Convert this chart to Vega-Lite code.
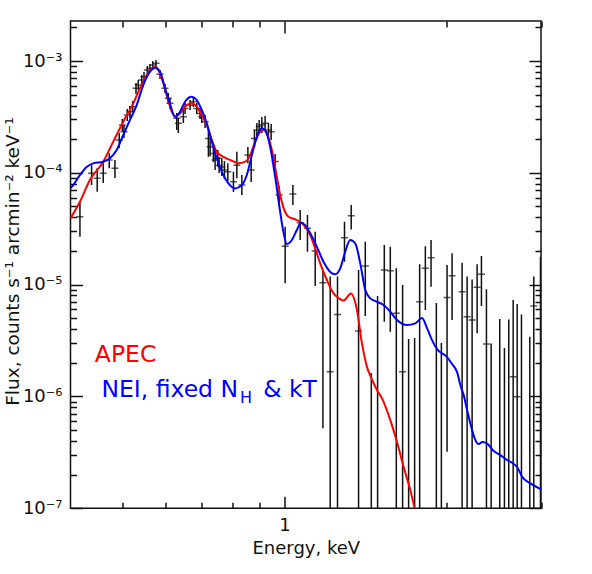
{
  "$schema": "https://vega.github.io/schema/vega-lite/v6.json",
  "width": 470.5,
  "height": 487.3,
  "autosize": {"type": "none"},
  "padding": {"left": 70.5, "top": 21, "right": 51, "bottom": 65.7},
  "background": "white",
  "config": {
    "view": {"stroke": "#111", "strokeWidth": 1.5},
    "axis": {
      "grid": false, "domain": false, "tickColor": "#111", "tickWidth": 1.5,
      "labelFont": "DejaVu Sans", "labelFontSize": 18, "labelColor": "#111",
      "titleFont": "DejaVu Sans", "titleFontSize": 18, "titleFontWeight": "normal", "titleColor": "#111",
      "labelOverlap": false, "labelFlush": false
    }
  },
  "datasets": {
    "pts": [
      {"E":0.4165,"F":4.05e-5,"lo":2.68e-5,"hi":5.51e-5},
      {"E":0.4378,"F":9.90e-5,"lo":7.78e-5,"hi":1.17e-4},
      {"E":0.4485,"F":8.93e-5,"lo":6.77e-5,"hi":1.10e-4},
      {"E":0.4602,"F":9.90e-5,"lo":8.10e-5,"hi":1.22e-4},
      {"E":0.4722,"F":1.30e-4,"lo":1.10e-4,"hi":1.50e-4},
      {"E":0.4839,"F":1.10e-4,"lo":8.98e-5,"hi":1.30e-4},
      {"E":0.4929,"F":1.97e-4,"lo":1.67e-4,"hi":2.27e-4},
      {"E":0.4993,"F":2.68e-4,"lo":2.37e-4,"hi":3.03e-4},
      {"E":0.5029,"F":2.33e-4,"lo":2.05e-4,"hi":2.68e-4},
      {"E":0.5101,"F":3.29e-4,"lo":2.91e-4,"hi":3.72e-4},
      {"E":0.5160,"F":3.52e-4,"lo":3.09e-4,"hi":3.96e-4},
      {"E":0.5220,"F":3.90e-4,"lo":3.50e-4,"hi":4.39e-4},
      {"E":0.5295,"F":5.70e-4,"lo":5.07e-4,"hi":6.36e-4},
      {"E":0.5347,"F":6.10e-4,"lo":5.50e-4,"hi":6.76e-4},
      {"E":0.5426,"F":6.76e-4,"lo":6.10e-4,"hi":7.49e-4},
      {"E":0.5480,"F":7.24e-4,"lo":6.62e-4,"hi":7.97e-4},
      {"E":0.5558,"F":8.31e-4,"lo":7.65e-4,"hi":9.02e-4},
      {"E":0.5622,"F":8.60e-4,"lo":7.97e-4,"hi":9.40e-4},
      {"E":0.5688,"F":9.21e-4,"lo":8.48e-4,"hi":1.00e-3},
      {"E":0.5769,"F":9.54e-4,"lo":8.84e-4,"hi":1.02e-3},
      {"E":0.5869,"F":7.60e-4,"lo":6.90e-4,"hi":8.31e-4},
      {"E":0.5996,"F":5.70e-4,"lo":5.17e-4,"hi":6.23e-4},
      {"E":0.6081,"F":4.64e-4,"lo":4.12e-4,"hi":5.17e-4},
      {"E":0.6126,"F":4.18e-4,"lo":3.72e-4,"hi":4.67e-4},
      {"E":0.6305,"F":3.07e-4,"lo":2.41e-4,"hi":3.43e-4},
      {"E":0.6348,"F":2.77e-4,"lo":2.27e-4,"hi":3.09e-4},
      {"E":0.6486,"F":3.18e-4,"lo":2.79e-4,"hi":3.65e-4},
      {"E":0.6533,"F":3.77e-4,"lo":3.36e-4,"hi":4.21e-4},
      {"E":0.6675,"F":4.04e-4,"lo":3.65e-4,"hi":4.48e-4},
      {"E":0.6770,"F":4.32e-4,"lo":3.88e-4,"hi":4.76e-4},
      {"E":0.6869,"F":3.77e-4,"lo":3.36e-4,"hi":4.21e-4},
      {"E":0.6967,"F":3.40e-4,"lo":3.03e-4,"hi":3.80e-4},
      {"E":0.7018,"F":3.18e-4,"lo":2.79e-4,"hi":3.57e-4},
      {"E":0.7118,"F":2.86e-4,"lo":2.52e-4,"hi":3.29e-4},
      {"E":0.7220,"F":2.03e-4,"lo":1.39e-4,"hi":2.41e-4},
      {"E":0.7273,"F":1.71e-4,"lo":1.41e-4,"hi":2.05e-4},
      {"E":0.7376,"F":1.49e-4,"lo":1.25e-4,"hi":1.77e-4},
      {"E":0.7430,"F":1.30e-4,"lo":1.06e-4,"hi":1.60e-4},
      {"E":0.7517,"F":1.35e-4,"lo":1.13e-4,"hi":1.60e-4},
      {"E":0.7559,"F":1.17e-4,"lo":9.96e-5,"hi":1.38e-4},
      {"E":0.7647,"F":1.13e-4,"lo":9.36e-5,"hi":1.36e-4},
      {"E":0.7733,"F":1.06e-4,"lo":8.80e-5,"hi":1.275e-4},
      {"E":0.7846,"F":1.02e-4,"lo":8.45e-5,"hi":1.22e-4},
      {"E":0.8037,"F":8.33e-5,"lo":6.73e-5,"hi":1.02e-4},
      {"E":0.8155,"F":1.17e-4,"lo":8.93e-5,"hi":1.54e-4},
      {"E":0.8332,"F":7.78e-5,"lo":6.33e-5,"hi":9.56e-5},
      {"E":0.8549,"F":1.44e-4,"lo":1.22e-4,"hi":1.70e-4},
      {"E":0.8671,"F":1.06e-4,"lo":8.27e-5,"hi":1.36e-4},
      {"E":0.8794,"F":2.03e-4,"lo":1.70e-4,"hi":2.41e-4},
      {"E":0.8885,"F":2.41e-4,"lo":2.09e-4,"hi":2.79e-4},
      {"E":0.8974,"F":2.59e-4,"lo":2.22e-4,"hi":2.97e-4},
      {"E":0.9077,"F":2.68e-4,"lo":2.27e-4,"hi":3.16e-4},
      {"E":0.9205,"F":2.77e-4,"lo":2.37e-4,"hi":3.22e-4},
      {"E":0.9337,"F":2.41e-4,"lo":2.09e-4,"hi":2.79e-4},
      {"E":0.9446,"F":2.33e-4,"lo":1.97e-4,"hi":2.73e-4},
      {"E":0.9609,"F":1.26e-4,"lo":1.06e-4,"hi":1.47e-4},
      {"E":0.9775,"F":6.33e-5,"lo":5.15e-5,"hi":7.62e-5},
      {"E":1.003,"F":2.21e-5,"lo":1.03e-5,"hi":3.29e-5},
      {"E":1.0367,"F":6.46e-5,"lo":5.15e-5,"hi":7.78e-5},
      {"E":1.0696,"F":3.58e-5,"lo":2.51e-5,"hi":4.65e-5},
      {"E":1.1035,"F":3.19e-5,"lo":1.97e-5,"hi":4.19e-5},
      {"E":1.1407,"F":2.00e-5,"lo":9.71e-6,"hi":2.97e-5},
      {"E":1.1790,"F":1.04e-5,"lo":5.21e-7,"hi":1.35e-5},
      {"E":1.2164,"F":1.66e-6,"lo":1e-8,"hi":1.18e-5},
      {"E":1.2550,"F":5.42e-6,"lo":1e-8,"hi":1.18e-5},
      {"E":1.2932,"F":2.63e-5,"lo":1.60e-5,"hi":3.65e-5},
      {"E":1.3309,"F":4.13e-5,"lo":3.12e-5,"hi":5.15e-5},
      {"E":1.3735,"F":3.85e-6,"lo":1e-8,"hi":1.35e-5},
      {"E":1.4136,"F":1.47e-5,"lo":5.24e-6,"hi":2.42e-5},
      {"E":1.4504,"F":null,"lo":1e-8,"hi":1.62e-6},
      {"E":1.4901,"F":null,"lo":1e-8,"hi":7.91e-6},
      {"E":1.5335,"F":1.35e-5,"lo":4.66e-6,"hi":2.26e-5},
      {"E":1.5734,"F":1.33e-5,"lo":3.79e-6,"hi":2.18e-5},
      {"E":1.6144,"F":5.54e-6,"lo":1e-8,"hi":1.40e-5},
      {"E":1.6586,"F":1.66e-6,"lo":1e-8,"hi":9.92e-6},
      {"E":1.7018,"F":null,"lo":1e-8,"hi":3.26e-6},
      {"E":1.7462,"F":null,"lo":1e-8,"hi":3.33e-6},
      {"E":1.7841,"F":7.03e-6,"lo":1e-8,"hi":1.52e-5},
      {"E":1.8282,"F":1.40e-5,"lo":5.92e-6,"hi":2.21e-5},
      {"E":1.8734,"F":1.74e-5,"lo":9.57e-6,"hi":2.51e-5},
      {"E":1.9164,"F":null,"lo":1e-8,"hi":6.85e-6},
      {"E":1.9580,"F":null,"lo":1e-8,"hi":3.00e-6},
      {"E":2.0064,"F":7.69e-6,"lo":3.20e-7,"hi":1.50e-5},
      {"E":2.0499,"F":1.20e-5,"lo":4.82e-6,"hi":1.91e-5},
      {"E":2.1398,"F":8.64e-6,"lo":1e-8,"hi":1.57e-5},
      {"E":2.1862,"F":5.16e-6,"lo":1e-8,"hi":1.18e-5},
      {"E":2.2336,"F":4.82e-6,"lo":1e-8,"hi":1.11e-5},
      {"E":2.2820,"F":9.46e-6,"lo":3.67e-6,"hi":1.52e-5},
      {"E":2.3245,"F":1.24e-5,"lo":6.43e-6,"hi":1.80e-5},
      {"E":2.3749,"F":2.94e-6,"lo":1e-8,"hi":9.08e-6},
      {"E":2.4233,"F":null,"lo":1e-8,"hi":2.98e-6},
      {"E":2.5141,"F":null,"lo":1e-8,"hi":4.92e-6},
      {"E":2.5653,"F":null,"lo":1e-8,"hi":2.71e-6},
      {"E":2.6131,"F":null,"lo":1e-8,"hi":4.89e-6},
      {"E":2.6629,"F":1.50e-6,"lo":1e-8,"hi":7.28e-6},
      {"E":2.7089,"F":9.93e-7,"lo":1e-8,"hi":6.71e-6},
      {"E":2.7593,"F":null,"lo":1e-8,"hi":5.42e-6},
      {"E":2.8593,"F":null,"lo":1e-8,"hi":3.42e-6},
      {"E":2.9088,"F":6.43e-6,"lo":1e-8,"hi":1.18e-5},
      {"E":2.9935,"F":null,"lo":1e-8,"hi":1.78e-5}
    ],
    "apec": [
      {"E":0.400,"F":3.92e-5},{"E":0.4165,"F":5.51e-5},{"E":0.4346,"F":8.62e-5},{"E":0.4602,"F":1.257e-4},
      {"E":0.4804,"F":1.90e-4},{"E":0.5014,"F":2.86e-4},{"E":0.5234,"F":4.18e-4},{"E":0.5386,"F":5.70e-4},
      {"E":0.5544,"F":7.49e-4},{"E":0.5664,"F":8.60e-4},{"E":0.5745,"F":8.84e-4},{"E":0.5827,"F":8.31e-4},
      {"E":0.5953,"F":6.32e-4},{"E":0.6074,"F":4.48e-4},{"E":0.6171,"F":3.52e-4},{"E":0.6259,"F":3.18e-4},
      {"E":0.6394,"F":3.40e-4},{"E":0.6581,"F":4.04e-4},{"E":0.6723,"F":4.18e-4},{"E":0.6869,"F":3.90e-4},
      {"E":0.7018,"F":3.29e-4},{"E":0.7170,"F":2.68e-4},{"E":0.7326,"F":1.97e-4},{"E":0.7484,"F":1.54e-4},
      {"E":0.7700,"F":1.39e-4},{"E":0.7982,"F":1.283e-4},{"E":0.8211,"F":1.216e-4},{"E":0.8450,"F":1.257e-4},
      {"E":0.8634,"F":1.44e-4},{"E":0.8820,"F":1.90e-4},{"E":0.9010,"F":2.33e-4},{"E":0.9139,"F":2.41e-4},
      {"E":0.9273,"F":2.26e-4},{"E":0.9474,"F":1.60e-4},{"E":0.9679,"F":9.23e-5},{"E":0.9817,"F":6.33e-5},
      {"E":0.9957,"F":4.89e-5},{"E":1.0173,"F":4.05e-5},{"E":1.0470,"F":3.84e-5},{"E":1.0696,"F":3.65e-5},
      {"E":1.0927,"F":3.29e-5},{"E":1.1166,"F":2.78e-5},{"E":1.1407,"F":2.11e-5},{"E":1.1654,"F":1.55e-5},
      {"E":1.1994,"F":1.10e-5},{"E":1.2338,"F":8.36e-6},{"E":1.2606,"F":7.59e-6},{"E":1.2877,"F":7.21e-6},
      {"E":1.3292,"F":8.32e-6},{"E":1.3641,"F":5.92e-6},{"E":1.3936,"F":2.98e-6},{"E":1.4238,"F":1.84e-6},
      {"E":1.4565,"F":1.40e-6},{"E":1.4863,"F":1.14e-6},{"E":1.5185,"F":9.61e-7},{"E":1.5734,"F":6.15e-7},
      {"E":1.6213,"F":3.83e-7},{"E":1.6657,"F":2.35e-7},{"E":1.7144,"F":1.45e-7},{"E":1.7462,"F":1.0e-7},
      {"E":1.7700,"F":7.5e-8}
    ],
    "nei": [
      {"E":0.400,"F":7.31e-5},{"E":0.4047,"F":7.78e-5},{"E":0.4165,"F":9.56e-5},{"E":0.4285,"F":1.13e-4},
      {"E":0.4409,"F":1.216e-4},{"E":0.4602,"F":1.257e-4},{"E":0.4736,"F":1.35e-4},{"E":0.4874,"F":1.60e-4},
      {"E":0.5014,"F":2.18e-4},{"E":0.5160,"F":2.97e-4},{"E":0.5311,"F":4.04e-4},{"E":0.5463,"F":6.10e-4},
      {"E":0.5622,"F":8.02e-4},{"E":0.5745,"F":8.71e-4},{"E":0.5869,"F":8.02e-4},{"E":0.5996,"F":5.73e-4},
      {"E":0.6126,"F":4.12e-4},{"E":0.6259,"F":3.18e-4},{"E":0.6394,"F":3.52e-4},{"E":0.6533,"F":4.32e-4},
      {"E":0.6723,"F":4.79e-4},{"E":0.6869,"F":4.48e-4},{"E":0.7018,"F":3.65e-4},{"E":0.7170,"F":2.77e-4},
      {"E":0.7326,"F":1.90e-4},{"E":0.7484,"F":1.35e-4},{"E":0.7647,"F":1.02e-4},{"E":0.7866,"F":8.05e-5},
      {"E":0.8095,"F":7.26e-5},{"E":0.8332,"F":7.78e-5},{"E":0.8511,"F":9.56e-5},{"E":0.8697,"F":1.44e-4},
      {"E":0.8885,"F":2.10e-4},{"E":0.9077,"F":2.50e-4},{"E":0.9205,"F":2.41e-4},{"E":0.9405,"F":1.71e-4},
      {"E":0.9609,"F":9.23e-5},{"E":0.9817,"F":4.49e-5},{"E":0.9957,"F":2.95e-5},{"E":1.0104,"F":2.31e-5},
      {"E":1.0322,"F":2.51e-5},{"E":1.0546,"F":3.08e-5},{"E":1.0728,"F":3.58e-5},{"E":1.0927,"F":3.41e-5},
      {"E":1.1166,"F":2.88e-5},{"E":1.1491,"F":2.18e-5},{"E":1.1820,"F":1.60e-5},{"E":1.2164,"F":1.30e-5},
      {"E":1.2428,"F":1.24e-5},{"E":1.2698,"F":1.40e-5},{"E":1.2971,"F":1.97e-5},{"E":1.3252,"F":2.51e-5},
      {"E":1.3542,"F":2.34e-5},{"E":1.3835,"F":1.55e-5},{"E":1.4136,"F":8.94e-6},{"E":1.4442,"F":7.54e-6},
      {"E":1.4863,"F":7.03e-6},{"E":1.5289,"F":6.57e-6},{"E":1.5734,"F":5.72e-6},{"E":1.6192,"F":4.82e-6},
      {"E":1.6901,"F":4.35e-6},{"E":1.7514,"F":4.51e-6},{"E":1.8025,"F":5.02e-6},{"E":1.8415,"F":4.09e-6},
      {"E":1.8814,"F":3.19e-6},{"E":1.9222,"F":2.65e-6},{"E":2.0064,"F":2.25e-6},{"E":2.0499,"F":1.95e-6},
      {"E":2.0945,"F":1.65e-6},{"E":2.1243,"F":1.26e-6},{"E":2.1544,"F":1.03e-6},{"E":2.1862,"F":7.55e-7},
      {"E":2.2336,"F":5.00e-7},{"E":2.2654,"F":4.07e-7},{"E":2.2977,"F":3.75e-7},{"E":2.3345,"F":3.91e-7},
      {"E":2.3820,"F":3.79e-7},{"E":2.4505,"F":3.25e-7},{"E":2.5217,"F":2.99e-7},{"E":2.5952,"F":2.70e-7},
      {"E":2.6549,"F":2.54e-7},{"E":2.7089,"F":2.34e-7},{"E":2.7676,"F":1.91e-7},{"E":2.8679,"F":1.67e-7},
      {"E":3.0,"F":1.48e-7}
    ]
  },
  "layer": [
    {
      "data": {"name": "pts"},
      "mark": {"type": "rule", "color": "#111", "strokeWidth": 1.5, "clip": true},
      "encoding": {
        "x": {"field": "E", "type": "quantitative",
              "scale": {"type": "log", "domain": [0.4, 3.0], "nice": false, "zero": false},
              "axis": {"orient": "bottom", "values": [1], "tickSize": -12, "labelPadding": 20.5,
                       "labelExpr": "'1'", "title": "Energy, keV", "titleY": 45.3,
                       "titleBaseline": "alphabetic"}},
        "y": {"field": "lo", "type": "quantitative",
              "scale": {"type": "log", "domain": [1e-7, 2.279e-3], "nice": false, "zero": false},
              "axis": {"orient": "left", "values": [1e-7, 1e-6, 1e-5, 1e-4, 1e-3], "tickSize": -12,
                       "labelPadding": 20.5,
                       "labelExpr": "round(log(datum.value)/LN10) == -3 ? '10⁻³' : round(log(datum.value)/LN10) == -4 ? '10⁻⁴' : round(log(datum.value)/LN10) == -5 ? '10⁻⁵' : round(log(datum.value)/LN10) == -6 ? '10⁻⁶' : '10⁻⁷'",
                       "title": "Flux, counts s⁻¹ arcmin⁻² keV⁻¹", "titleX": -52.5, "titleY": 240,
                       "titleAngle": 270, "titleBaseline": "alphabetic", "titleAlign": "center",
                       "titleFontSize": 18.5}},
        "y2": {"field": "hi"}
      }
    },
    {
      "data": {"name": "pts"},
      "mark": {"type": "tick", "orient": "horizontal", "size": 7, "thickness": 1.5, "color": "#111", "clip": true},
      "encoding": {
        "x": {"field": "E", "type": "quantitative",
              "axis": {"orient": "bottom", "values": [0.5, 0.6, 0.7, 0.8, 0.9, 2, 3], "tickSize": -6,
                       "labels": false, "title": null}},
        "y": {"field": "F", "type": "quantitative",
              "axis": {"orient": "left",
                       "values": [2e-7,3e-7,4e-7,5e-7,6e-7,7e-7,8e-7,9e-7,2e-6,3e-6,4e-6,5e-6,6e-6,7e-6,8e-6,9e-6,2e-5,3e-5,4e-5,5e-5,6e-5,7e-5,8e-5,9e-5,2e-4,3e-4,4e-4,5e-4,6e-4,7e-4,8e-4,9e-4,2e-3],
                       "tickSize": -6, "labels": false, "title": null}}
      }
    },
    {
      "data": {"name": "apec"},
      "mark": {"type": "line", "color": "#ff0000", "strokeWidth": 2, "interpolate": "monotone", "clip": true},
      "encoding": {
        "x": {"field": "E", "type": "quantitative",
              "axis": {"orient": "top", "values": [1], "tickSize": -12, "labels": false, "title": null}},
        "y": {"field": "F", "type": "quantitative",
              "axis": {"orient": "right", "values": [1e-7, 1e-6, 1e-5, 1e-4, 1e-3], "tickSize": -12,
                       "labels": false, "title": null}}
      }
    },
    {
      "data": {"name": "nei"},
      "mark": {"type": "line", "color": "#0000ff", "strokeWidth": 2, "interpolate": "monotone", "clip": true},
      "encoding": {
        "x": {"field": "E", "type": "quantitative",
              "axis": {"orient": "top", "values": [0.5, 0.6, 0.7, 0.8, 0.9, 2, 3], "tickSize": -6,
                       "labels": false, "title": null}},
        "y": {"field": "F", "type": "quantitative",
              "axis": {"orient": "right",
                       "values": [2e-7,3e-7,4e-7,5e-7,6e-7,7e-7,8e-7,9e-7,2e-6,3e-6,4e-6,5e-6,6e-6,7e-6,8e-6,9e-6,2e-5,3e-5,4e-5,5e-5,6e-5,7e-5,8e-5,9e-5,2e-4,3e-4,4e-4,5e-4,6e-4,7e-4,8e-4,9e-4,2e-3],
                       "tickSize": -6, "labels": false, "title": null}}
      }
    },
    {
      "data": {"values": [{"E": 0.444, "F": 2.04e-6, "label": "APEC"}]},
      "mark": {"type": "text", "align": "left", "baseline": "alphabetic", "font": "DejaVu Sans", "fontSize": 23.5, "color": "#ff0000"},
      "encoding": {
        "x": {"field": "E", "type": "quantitative", "axis": null},
        "y": {"field": "F", "type": "quantitative", "axis": null},
        "text": {"field": "label"}
      }
    },
    {
      "data": {"values": [{"E": 0.8199, "F": 9.93e-7, "label": "NEI, fixed N"}]},
      "mark": {"type": "text", "align": "right", "baseline": "alphabetic", "font": "DejaVu Sans", "fontSize": 23.5, "color": "#0000ff"},
      "encoding": {
        "x": {"field": "E", "type": "quantitative", "axis": null},
        "y": {"field": "F", "type": "quantitative", "axis": null},
        "text": {"field": "label"}
      }
    },
    {
      "data": {"values": [{"E": 0.827, "F": 8.67e-7, "label": "H"}]},
      "mark": {"type": "text", "align": "left", "baseline": "alphabetic", "font": "DejaVu Sans", "fontSize": 16, "color": "#0000ff"},
      "encoding": {
        "x": {"field": "E", "type": "quantitative", "axis": null},
        "y": {"field": "F", "type": "quantitative", "axis": null},
        "text": {"field": "label"}
      }
    },
    {
      "data": {"values": [{"E": 0.9128, "F": 9.93e-7, "label": "& kT"}]},
      "mark": {"type": "text", "align": "left", "baseline": "alphabetic", "font": "DejaVu Sans", "fontSize": 23.5, "color": "#0000ff"},
      "encoding": {
        "x": {"field": "E", "type": "quantitative", "axis": null},
        "y": {"field": "F", "type": "quantitative", "axis": null},
        "text": {"field": "label"}
      }
    }
  ],
  "resolve": {"axis": {"x": "independent", "y": "independent"}}
}
